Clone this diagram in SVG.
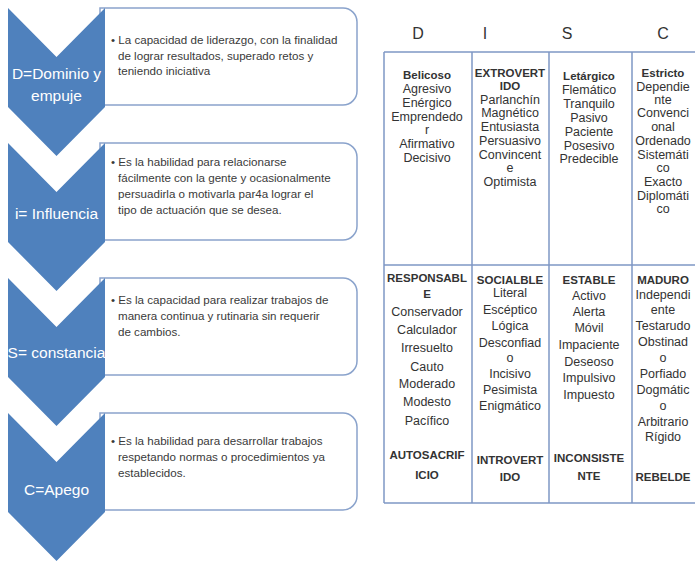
<svg xmlns="http://www.w3.org/2000/svg" width="695" height="561" viewBox="0 0 695 561">
<style>
.chev{fill:#4F81BD}
.box{fill:#fff;stroke:#8AA3CC;stroke-width:1.5}
.lbl{font-family:"Liberation Sans",Arial,sans-serif;font-size:15.5px;fill:#fff;text-anchor:middle}
.bt{font-family:"Liberation Sans",Arial,sans-serif;font-size:11.6px;fill:#3a3a3a}
.hd{font-family:"Liberation Sans",Arial,sans-serif;font-size:16px;fill:#333;text-anchor:middle}
.tc{font-family:"Liberation Sans",Arial,sans-serif;font-size:12.5px;fill:#333;text-anchor:middle}
.tb{font-weight:bold;font-size:11.5px}
.grid{stroke:#7E97C4;stroke-width:1.5;fill:none}
</style>
<rect width="695" height="561" fill="#fff"/>

<g id="step-D">
<path class="box" d="M100,8 H343 A14,14 0 0 1 357,22 V91 A14,14 0 0 1 343,105 H100 Z"/>
<polygon class="chev" points="8,8 56.5,57 105,8 105,107 56.5,156 8,107"/>
<text class="lbl" x="56.5" y="79">D=Dominio y</text>
<text class="lbl" x="56.5" y="101">empuje</text>
<text class="bt" x="111" y="44">• La capacidad de liderazgo,  con la finalidad</text>
<text class="bt" x="118" y="60">de lograr resultados, superado retos y</text>
<text class="bt" x="118" y="75">teniendo iniciativa</text>
</g>

<g id="step-I">
<path class="box" d="M100,143 H343 A14,14 0 0 1 357,157 V226 A14,14 0 0 1 343,240 H100 Z"/>
<polygon class="chev" points="8,143 56.5,192 105,143 105,242 56.5,291 8,242"/>
<text class="lbl" x="56.5" y="219">i= Influencia</text>
<text class="bt" x="111" y="166">• Es la habilidad para relacionarse</text>
<text class="bt" x="118" y="182">fácilmente  con la gente y ocasionalmente</text>
<text class="bt" x="118" y="198">persuadirla  o motivarla  par4a lograr el</text>
<text class="bt" x="118" y="214">tipo de actuación que se desea.</text>
</g>

<g id="step-S">
<path class="box" d="M100,278 H343 A14,14 0 0 1 357,292 V361 A14,14 0 0 1 343,375 H100 Z"/>
<polygon class="chev" points="8,278 56.5,327 105,278 105,377 56.5,426 8,377"/>
<text class="lbl" x="56.5" y="358">S= constancia</text>
<text class="bt" x="111" y="304">• Es la capacidad para realizar  trabajos de</text>
<text class="bt" x="118" y="320">manera  continua y rutinaria  sin requerir</text>
<text class="bt" x="118" y="336">de cambios.</text>
</g>

<g id="step-C">
<path class="box" d="M100,413 H343 A14,14 0 0 1 357,427 V496 A14,14 0 0 1 343,510 H100 Z"/>
<polygon class="chev" points="8,413 56.5,462 105,413 105,512 56.5,561 8,512"/>
<text class="lbl" x="56.5" y="495">C=Apego</text>
<text class="bt" x="111" y="445">• Es la habilidad para desarrollar  trabajos</text>
<text class="bt" x="118" y="461">respetando normas o procedimientos ya</text>
<text class="bt" x="118" y="477">establecidos.</text>
</g>

<g id="table">
<text class="hd" x="418" y="39">D</text>
<text class="hd" x="485" y="39">I</text>
<text class="hd" x="567" y="39">S</text>
<text class="hd" x="663" y="39">C</text>
<g class="grid">
<line x1="384" y1="52" x2="695" y2="52"/>
<line x1="384" y1="265" x2="695" y2="265"/>
<line x1="384" y1="503" x2="695" y2="503"/>
<line x1="384" y1="52" x2="384" y2="503"/>
<line x1="472" y1="52" x2="472" y2="503"/>
<line x1="549" y1="52" x2="549" y2="503"/>
<line x1="632" y1="52" x2="632" y2="503"/>
</g>

<g id="cell-D-top">
<text class="tc tb" x="427" y="79">Belicoso</text>
<text class="tc" x="427" y="93">Agresivo</text>
<text class="tc" x="427" y="107">Enérgico</text>
<text class="tc" x="427" y="121">Emprendedo</text>
<text class="tc" x="427" y="134">r</text>
<text class="tc" x="427" y="148">Afirmativo</text>
<text class="tc" x="427" y="162">Decisivo</text>
</g>
<g id="cell-I-top">
<text class="tc tb" x="510" y="77">EXTROVERT</text>
<text class="tc tb" x="510" y="90">IDO</text>
<text class="tc" x="510" y="104">Parlanchín</text>
<text class="tc" x="510" y="117">Magnético</text>
<text class="tc" x="510" y="131">Entusiasta</text>
<text class="tc" x="510" y="145">Persuasivo</text>
<text class="tc" x="510" y="159">Convincent</text>
<text class="tc" x="510" y="172">e</text>
<text class="tc" x="510" y="186">Optimista</text>
</g>
<g id="cell-S-top">
<text class="tc tb" x="589" y="80">Letárgico</text>
<text class="tc" x="589" y="94">Flemático</text>
<text class="tc" x="589" y="108">Tranquilo</text>
<text class="tc" x="589" y="122">Pasivo</text>
<text class="tc" x="589" y="136">Paciente</text>
<text class="tc" x="589" y="150">Posesivo</text>
<text class="tc" x="589" y="163">Predecible</text>
</g>
<g id="cell-C-top">
<text class="tc tb" x="663" y="77">Estricto</text>
<text class="tc" x="663" y="91">Dependie</text>
<text class="tc" x="663" y="104">nte</text>
<text class="tc" x="663" y="117">Convenci</text>
<text class="tc" x="663" y="131">onal</text>
<text class="tc" x="663" y="145">Ordenado</text>
<text class="tc" x="663" y="159">Sistemáti</text>
<text class="tc" x="663" y="172">co</text>
<text class="tc" x="663" y="186">Exacto</text>
<text class="tc" x="663" y="200">Diplomáti</text>
<text class="tc" x="663" y="213">co</text>
</g>

<g id="cell-D-bottom">
<text class="tc tb" x="427" y="282">RESPONSABL</text>
<text class="tc tb" x="427" y="298">E</text>
<text class="tc" x="427" y="316">Conservador</text>
<text class="tc" x="427" y="334">Calculador</text>
<text class="tc" x="427" y="352">Irresuelto</text>
<text class="tc" x="427" y="371">Cauto</text>
<text class="tc" x="427" y="388">Moderado</text>
<text class="tc" x="427" y="406">Modesto</text>
<text class="tc" x="427" y="425">Pacífico</text>
<text class="tc tb" x="427" y="459">AUTOSACRIF</text>
<text class="tc tb" x="427" y="479">ICIO</text>
</g>
<g id="cell-I-bottom">
<text class="tc tb" x="510" y="284">SOCIALBLE</text>
<text class="tc" x="510" y="297">Literal</text>
<text class="tc" x="510" y="314">Escéptico</text>
<text class="tc" x="510" y="330">Lógica</text>
<text class="tc" x="510" y="347">Desconfiad</text>
<text class="tc" x="510" y="362">o</text>
<text class="tc" x="510" y="378">Incisivo</text>
<text class="tc" x="510" y="394">Pesimista</text>
<text class="tc" x="510" y="410">Enigmático</text>
<text class="tc tb" x="510" y="464">INTROVERT</text>
<text class="tc tb" x="510" y="481">IDO</text>
</g>
<g id="cell-S-bottom">
<text class="tc tb" x="589" y="284">ESTABLE</text>
<text class="tc" x="589" y="300">Activo</text>
<text class="tc" x="589" y="316">Alerta</text>
<text class="tc" x="589" y="332">Móvil</text>
<text class="tc" x="589" y="349">Impaciente</text>
<text class="tc" x="589" y="366">Deseoso</text>
<text class="tc" x="589" y="382">Impulsivo</text>
<text class="tc" x="589" y="399">Impuesto</text>
<text class="tc tb" x="589" y="462">INCONSISTE</text>
<text class="tc tb" x="589" y="480">NTE</text>
</g>
<g id="cell-C-bottom">
<text class="tc tb" x="663" y="284">MADURO</text>
<text class="tc" x="663" y="299">Independi</text>
<text class="tc" x="663" y="314">ente</text>
<text class="tc" x="663" y="330">Testarudo</text>
<text class="tc" x="663" y="346">Obstinad</text>
<text class="tc" x="663" y="362">o</text>
<text class="tc" x="663" y="378">Porfiado</text>
<text class="tc" x="663" y="394">Dogmátic</text>
<text class="tc" x="663" y="410">o</text>
<text class="tc" x="663" y="426">Arbitrario</text>
<text class="tc" x="663" y="441">Rígido</text>
<text class="tc tb" x="663" y="481">REBELDE</text>
</g>
</g>
</svg>
